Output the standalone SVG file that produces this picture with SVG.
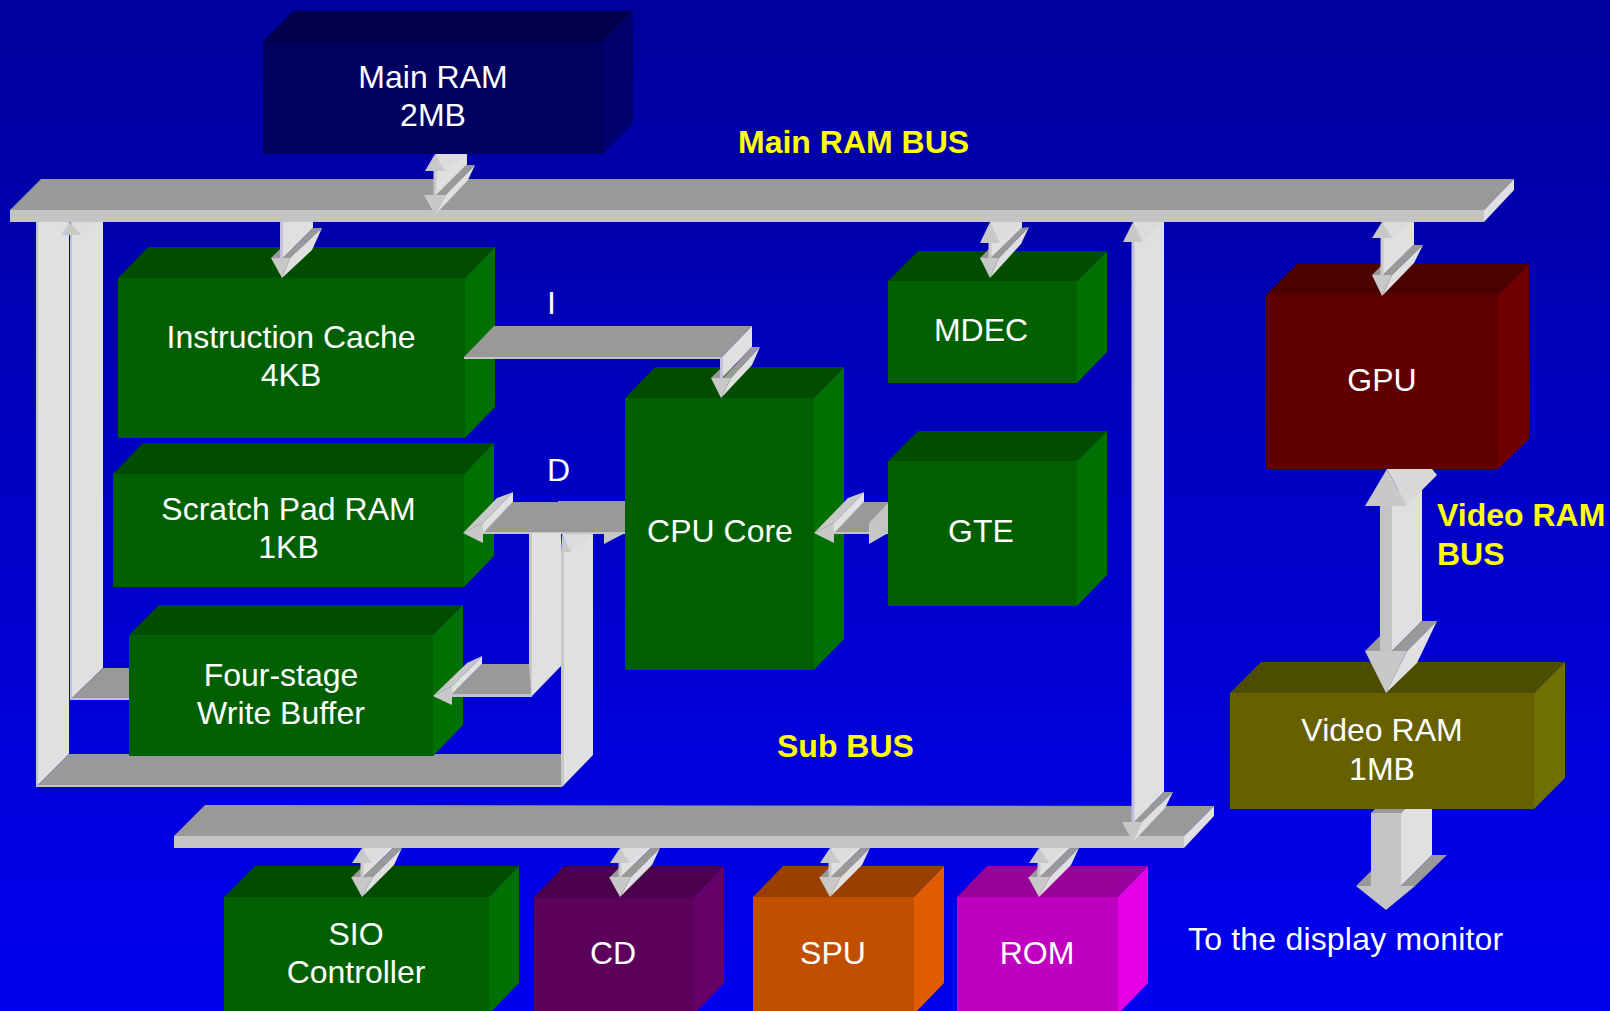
<svg xmlns="http://www.w3.org/2000/svg" xmlns:xlink="http://www.w3.org/1999/xlink" width="1610" height="1011" viewBox="0 0 1610 1011">
<style>
text{font-family:"Liberation Sans",Arial,sans-serif;font-size:32px}
.t{fill:#fff;text-anchor:middle}
.s{fill:#fff}
.y{fill:#ff0;font-weight:bold}
.gf{fill:#006000}.gt{fill:#004d00}.gs{fill:#007000}
.lt{fill:#e0e0e0}.up{fill:#dcdcdc}.dk{fill:#999}.fr{fill:#c8c8c8}.st{fill:#c4c4c4}.eg{fill:#c0c0dc}
</style>
<defs>
<linearGradient id="bg" x1="0" y1="0" x2="0" y2="1"><stop offset="0" stop-color="#00009c"/><stop offset="1" stop-color="#0000f0"/></linearGradient>
<g id="subArrow">
<polygon class="lt" points="1,848 31,848 1,877"/>
<polygon class="up" points="0,848 10,863 26,848"/>
<polygon class="dk" points="-10,877 -1,868 -1,877"/>
<polygon class="dk" points="1,877 31,848 40,848 11,877"/>
<polygon class="lt" points="11,877 40,848 32,865 0,897"/>
<rect class="fr" x="-1.5" y="863" width="3" height="14"/>
<polygon class="fr" points="0,848 10,863 -10,863"/>
<polygon class="fr" points="-11,877 11,877 0,897"/>
</g>
</defs>
<rect width="1610" height="1011" fill="url(#bg)"/>

<g id="main-ram">
<polygon fill="#00004d" points="263,42 293,11 633,11 603,42"/>
<polygon fill="#00006e" points="603,42 633,11 633,124 603,154"/>
<rect fill="#000060" x="263" y="42" width="340" height="112"/>
<text class="t" x="433" y="88">Main RAM</text><text class="t" x="433" y="126">2MB</text>
</g>
<g id="instruction-cache">
<polygon class="gt" points="118,278 148,247 495,247 465,278"/>
<polygon class="gs" points="465,278 495,247 495,407 465,438"/>
<rect class="gf" x="118" y="278" width="347" height="160"/>
<text class="t" x="291" y="348">Instruction Cache</text><text class="t" x="291" y="386">4KB</text>
</g>
<g id="scratch-pad">
<polygon class="gt" points="113,474 143,443 494,443 464,474"/>
<polygon class="gs" points="464,474 494,443 494,556 464,587"/>
<rect class="gf" x="113" y="474" width="351" height="113"/>
<text class="t" x="288.500" y="520">Scratch Pad RAM</text><text class="t" x="288.500" y="558">1KB</text>
</g>
<g id="write-buffer">
<polygon class="gt" points="129,635 159,605 463,605 433,635"/>
<polygon class="gs" points="433,635 463,605 463,725 433,756"/>
<rect class="gf" x="129" y="635" width="304" height="121"/>
<text class="t" x="281" y="686">Four-stage</text><text class="t" x="281" y="724">Write Buffer</text>
</g>
<g id="cpu-core">
<polygon class="gt" points="625,398 655,367 844,367 814,398"/>
<polygon class="gs" points="814,398 844,367 844,639 814,670"/>
<rect class="gf" x="625" y="398" width="189" height="272"/>
<text class="t" x="720" y="542">CPU Core</text>
</g>
<g id="mdec">
<polygon class="gt" points="888,281 918,251 1107,251 1077,281"/>
<polygon class="gs" points="1077,281 1107,251 1107,352 1077,383"/>
<rect class="gf" x="888" y="281" width="189" height="102"/>
<text class="t" x="981" y="341">MDEC</text>
</g>
<g id="gte">
<polygon class="gt" points="888,461 918,431 1107,431 1077,461"/>
<polygon class="gs" points="1077,461 1107,431 1107,575 1077,606"/>
<rect class="gf" x="888" y="461" width="189" height="145"/>
<text class="t" x="981" y="542">GTE</text>
</g>
<g id="gpu">
<polygon fill="#4d0000" points="1266,295 1297,264 1529,264 1498,295"/>
<polygon fill="#700000" points="1498,295 1529,264 1529,439 1498,469"/>
<rect fill="#600000" x="1266" y="295" width="232" height="174"/>
<text class="t" x="1382" y="391">GPU</text>
</g>
<g id="video-ram">
<polygon fill="#4d4d00" points="1230,693 1261,662 1565,662 1534,693"/>
<polygon fill="#707000" points="1534,693 1565,662 1565,778 1534,809"/>
<rect fill="#666000" x="1230" y="693" width="304" height="116"/>
<text class="t" x="1382" y="741">Video RAM</text><text class="t" x="1382" y="780">1MB</text>
</g>
<g id="sio">
<polygon class="gt" points="224,897 255,866 519,866 489,897"/>
<polygon class="gs" points="489,897 519,866 519,983 489,1014"/>
<rect class="gf" x="224" y="897" width="265" height="114"/>
<text class="t" x="356" y="945">SIO</text><text class="t" x="356" y="983">Controller</text>
</g>
<g id="cd">
<polygon fill="#4a004a" points="534,897 564,866 724,866 694,897"/>
<polygon fill="#660066" points="694,897 724,866 724,983 694,1014"/>
<rect fill="#5c005c" x="534" y="897" width="160" height="114"/>
<text class="t" x="613" y="964">CD</text>
</g>
<g id="spu">
<polygon fill="#994000" points="753,897 783,866 944,866 914,897"/>
<polygon fill="#e05c00" points="914,897 944,866 944,983 914,1014"/>
<rect fill="#c05000" x="753" y="897" width="161" height="114"/>
<text class="t" x="833" y="964">SPU</text>
</g>
<g id="rom">
<polygon fill="#990099" points="957,897 987,866 1148,866 1118,897"/>
<polygon fill="#e600e6" points="1118,897 1148,866 1148,983 1118,1014"/>
<rect fill="#c000c0" x="957" y="897" width="161" height="114"/>
<text class="t" x="1037" y="964">ROM</text>
</g>

<g id="connectors">
<polygon class="lt" points="38,222 69,222 69,754 38,785"/>
<rect class="eg" x="36" y="222" width="2" height="565"/>
<polygon class="lt" points="72,222 103,222 103,668 72,698"/>
<polygon class="dk" points="103,668 129,668 129,698 72,698"/>
<rect class="eg" x="70" y="235" width="2" height="465"/>
<rect class="eg" x="70" y="698" width="59" height="2"/>
<polygon class="up" points="70,222 81,235 96,222"/>
<polygon class="fr" points="70,222 81,235 61,235"/>
<polygon class="dk" points="38,785 69,754 129,754 129,756 433,756 435,754 561,754 562,785"/>
<rect class="st" x="36" y="785" width="526" height="2"/>
<polygon class="dk" points="513,502 558,502 558,501 625,501 625,532 483,532"/>
<rect class="st" x="483" y="532" width="142" height="2"/>
<polygon class="fr" points="463,533 497,498 513,492 483,523"/>
<polygon class="lt" points="483,523 513,492 513,502 483,533"/>
<polygon class="fr" points="463,533 483,523 483,543"/>
<polygon class="fr" points="604,533 625,533 604,544"/>
<polygon class="lt" points="564,534 593,534 593,755 562,787 564,785"/>
<rect class="fr" x="561" y="552" width="3" height="234"/>
<polygon class="up" points="562,534 571,552 593,534"/>
<polygon class="fr" points="562,534 571,552 561,552"/>
<polygon class="lt" points="532,533 561,533 561,666 532,696"/>
<rect class="fr" x="529" y="533" width="3" height="164"/>
<polygon class="dk" points="482,664 529,664 531,694 452,694"/>
<rect class="eg" x="452" y="694" width="80" height="3"/>
<polygon class="fr" points="433,696 467,663 482,656 452,686"/>
<polygon class="lt" points="452,686 482,656 482,664 452,694"/>
<polygon class="fr" points="433,696 452,686 452,705"/>
<polygon class="dk" points="494,326 752,326 722,357 464,357"/>
<rect class="st" x="464" y="357" width="256" height="2"/>
<polygon class="lt" points="722,357 752,326 752,347 722,378"/>
<polygon class="dk" points="711,378 720,369 720,378"/>
<polygon class="dk" points="723,378 752,347 760,347 731,378"/>
<polygon class="lt" points="731,378 760,347 752,365 721,398"/>
<rect class="eg" x="720" y="357" width="3" height="21"/>
<polygon class="fr" points="711,378 731,378 721,398"/>
<polygon class="dk" points="864,502 888,502 888,532 834,532"/>
<rect class="st" x="834" y="532" width="54" height="2"/>
<polygon class="st" points="869,523 888,503 888,533"/>
<polygon class="fr" points="814,533 848,498 864,492 834,523"/>
<polygon class="lt" points="834,523 864,492 864,502 834,533"/>
<polygon class="fr" points="814,533 834,523 834,543"/>
<polygon class="fr" points="869,523 888,533 869,544"/>
<polygon class="dk" points="41,179 1514,179 1484,210 10,210"/>
<rect class="st" x="10" y="210" width="1474" height="12"/>
<polygon class="lt" points="1484,210 1514,179 1514,190 1484,222"/>
<polygon class="dk" points="205,805 1214,806 1184,836 174,836"/>
<rect class="st" x="174" y="836" width="1010" height="12"/>
<polygon class="lt" points="1184,836 1214,806 1214,816 1184,848"/>
<polygon class="lt" points="436,154 467,154 467,165 436,195"/>
<polygon class="up" points="435,154 445,171 467,154"/>
<polygon class="dk" points="425,195 434,185 434,195"/>
<polygon class="dk" points="436,195 466,165 475,165 446,195"/>
<polygon class="lt" points="446,195 475,165 468,180 435,215"/>
<rect class="fr" x="433.500" y="171" width="3" height="24"/>
<polygon class="fr" points="435,154 445,171 425,171"/>
<polygon class="fr" points="424,195 446,195 435,215"/>
<polygon class="lt" points="283,222 313,222 313,228 283,258"/>
<polygon class="dk" points="271,258 280,249 280,258"/>
<polygon class="dk" points="283,258 313,228 322,228 290,258"/>
<polygon class="lt" points="290,258 322,228 312,250 282,278"/>
<rect class="eg" x="280" y="222" width="3" height="36"/>
<polygon class="fr" points="271,258 290,258 282,278"/>
<polygon class="lt" points="991,222 1022,222 1022,228 991,258"/>
<polygon class="up" points="990,222 1000,243 1022,222"/>
<polygon class="dk" points="980,258 989,249 989,258"/>
<polygon class="dk" points="991,258 1021,228 1029,227 999,258"/>
<polygon class="lt" points="999,258 1029,227 1021,244 990,278"/>
<rect class="fr" x="988.500" y="243" width="3" height="15"/>
<polygon class="fr" points="990,222 1000,243 980,243"/>
<polygon class="fr" points="980,258 999,258 990,278"/>
<polygon class="lt" points="1383,222 1414,222 1414,245 1383,275"/>
<polygon class="up" points="1382,222 1392,238 1414,222"/>
<polygon class="dk" points="1372,275 1381,266 1381,275"/>
<polygon class="dk" points="1383,275 1413,245 1423,245 1392,275"/>
<polygon class="lt" points="1392,275 1423,245 1414,263 1382,296"/>
<rect class="fr" x="1380.500" y="238" width="3" height="37"/>
<polygon class="fr" points="1382,222 1392,238 1372,238"/>
<polygon class="fr" points="1372,275 1392,275 1382,296"/>
<polygon class="lt" points="1134,222 1164,222 1164,792 1134,822"/>
<polygon class="up" points="1133,222 1143,242 1164,222"/>
<polygon class="dk" points="1122,822 1131,813 1131,822"/>
<polygon class="dk" points="1134,822 1164,792 1173,792 1142,822"/>
<polygon class="lt" points="1142,822 1173,792 1165,808 1133,842"/>
<rect class="eg" x="1131.500" y="242" width="3" height="580"/>
<polygon class="fr" points="1133,222 1143,242 1123,242"/>
<polygon class="fr" points="1122,822 1142,822 1133,842"/>
<use xlink:href="#subArrow" href="#subArrow" x="362"/>
<use xlink:href="#subArrow" href="#subArrow" x="620"/>
<use xlink:href="#subArrow" href="#subArrow" x="830"/>
<use xlink:href="#subArrow" href="#subArrow" x="1039"/>
<polygon class="lt" points="1392,490 1422,490 1422,621 1392,651"/>
<polygon fill="#d8d8d8" points="1387,469 1407,506 1422,490 1437,475 1432,469"/>
<polygon class="dk" points="1365,651 1380,636 1380,651"/>
<polygon class="dk" points="1392,651 1422,621 1437,621 1407,651"/>
<polygon class="lt" points="1407,651 1437,621 1417,663 1386,693"/>
<rect class="st" x="1380" y="506" width="12" height="145"/>
<polygon class="fr" points="1387,469 1407,506 1365,506"/>
<polygon class="fr" points="1365,651 1407,651 1386,693"/>
<polygon class="dk" points="1371,813 1375,809 1405,809 1401,813"/>
<polygon class="lt" points="1401,813 1405,809 1432,809 1432,855 1401,886"/>
<polygon class="dk" points="1356,886 1371,871 1371,886"/>
<polygon class="dk" points="1401,886 1432,855 1447,855 1415,886"/>
<rect class="st" x="1371" y="813" width="30" height="73"/>
<polygon class="st" points="1356,886 1415,886 1386,910"/>
</g>

<g id="labels">
<text class="y" x="738" y="153">Main RAM BUS</text>
<text class="y" x="777" y="757">Sub BUS</text>
<text class="y" x="1437" y="526">Video RAM</text>
<text class="y" x="1437" y="565">BUS</text>
<text class="s" x="547" y="314">I</text>
<text class="s" x="547" y="481">D</text>
<text class="s" x="1188" y="950" style="letter-spacing:.19px">To the display monitor</text>
</g>
</svg>
